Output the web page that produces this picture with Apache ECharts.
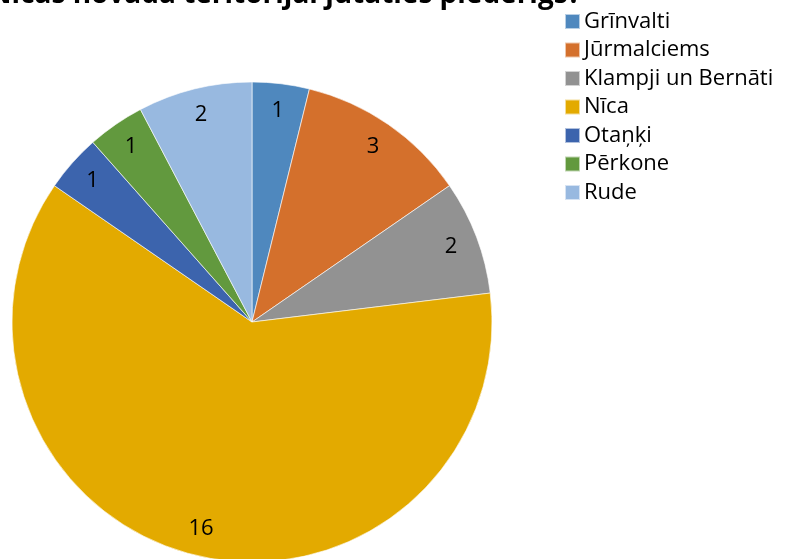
<!DOCTYPE html>
<html><head><meta charset="utf-8">
<script src="https://cdn.jsdelivr.net/npm/echarts@6/dist/echarts.min.js"></script>
<style>html,body{margin:0;padding:0;background:#fff}#c{width:788px;height:559px}</style>
</head><body><div id="c"></div>
<script>
var titleText = 'Nīcas novada teritorijai jūtaties piederīgs?';
var categories = ['Grīnvalti','Jūrmalciems','Klampji un Bernāti','Nīca','Otaņķi','Pērkone','Rude'];
var values = [1,3,2,16,1,1,2];
var colors = ['#4F88BE','#D4702C','#929292','#E3AA00','#3C64AD','#62993E','#98B9E0'];

var data = categories.map(function(n,i){return {name:n,value:values[i],itemStyle:{color:colors[i]}};});
var labelData = categories.map(function(n,i){return {name:n,value:values[i]};});
var chart = echarts.init(document.getElementById('c'));
chart.setOption({
  animation:false,
  title:{text:titleText,right:207,top:-19,padding:0,textStyle:{fontFamily:'Open Sans',fontWeight:'bold',fontSize:28,color:'#000'}},
  legend:{orient:'vertical',left:564,top:10.5,padding:0,itemWidth:15,itemHeight:15,itemGap:6.5,icon:'rect',
    data:categories,textStyle:{fontFamily:'Open Sans',fontSize:22,color:'#000',padding:[0,0,0,-1]}},
  series:[
    {type:'pie',center:[252,322],radius:[0,240],startAngle:90,clockwise:true,
     label:{show:false},labelLine:{show:false},
     itemStyle:{borderColor:'rgba(255,255,255,0.6)',borderWidth:1},data:data,silent:true},
    {type:'pie',center:[252,322],radius:[180,240],startAngle:90,clockwise:true,silent:true,
     legendHoverLink:false,
     label:{show:true,position:'inside',formatter:'{c}',fontFamily:'Open Sans',fontSize:22,color:'#000'},
     labelLine:{show:false},itemStyle:{color:'rgba(0,0,0,0)'},data:labelData,tooltip:{show:false}}
  ]
});
</script></body></html>
